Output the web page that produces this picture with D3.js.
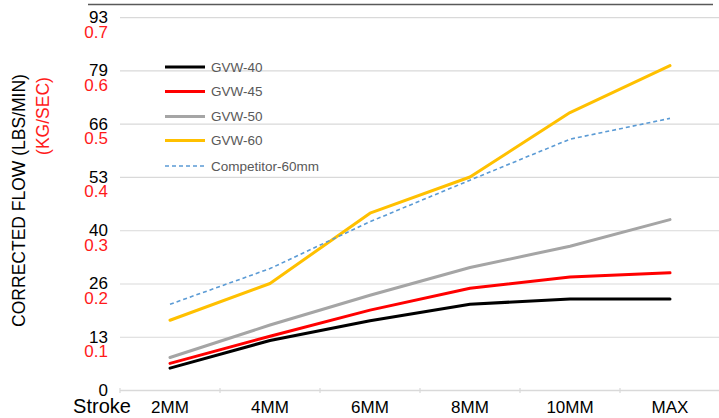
<!DOCTYPE html>
<html>
<head>
<meta charset="utf-8">
<script src="https://cdn.jsdelivr.net/npm/d3@7/dist/d3.min.js"></script>
<style>
  html, body { margin: 0; padding: 0; background: #fff; }
  svg { display: block; font-family: "Liberation Sans", Arial, sans-serif; }
</style>
</head>
<body>
<svg id="chart" width="719" height="418"></svg>
<script>
// ---- data ----
const categories = ["2MM", "4MM", "6MM", "8MM", "10MM", "MAX"];
const seriesNames = ["GVW-40", "GVW-45", "GVW-50", "GVW-60", "Competitor-60mm"];
// corrected flow in kg/sec
const gvw40 = [0.041, 0.093, 0.130, 0.161, 0.171, 0.171];
const gvw45 = [0.050, 0.101, 0.150, 0.191, 0.212, 0.220];
const gvw50 = [0.061, 0.122, 0.178, 0.230, 0.270, 0.320];
const gvw60 = [0.131, 0.200, 0.332, 0.400, 0.521, 0.609];
const competitor60 = [0.161, 0.228, 0.316, 0.394, 0.471, 0.510];
const kgTicks = [0, 0.1, 0.2, 0.3, 0.4, 0.5, 0.6, 0.7];
const lbsTickLabels = ["0", "13", "26", "40", "53", "66", "79", "93"];
const kgTickLabels = ["", "0.1", "0.2", "0.3", "0.4", "0.5", "0.6", "0.7"];

const seriesValues = [gvw40, gvw45, gvw50, gvw60, competitor60];
const colors = ["#000000", "#ff0000", "#a5a5a5", "#ffc000", "#5b9bd5"];
const widths = [3, 3, 3, 3, 1.6];
const dashes = [null, null, null, null, "4,3"];

const svg = d3.select("#chart");

const x = d3.scaleBand().domain(categories).range([120, 720]).paddingInner(0).paddingOuter(0);
const y = d3.scaleLinear().domain([0, 0.7]).range([390, 17.2]);

// top rule (cut-off header)
svg.append("line")
  .attr("x1", 88).attr("x2", 713).attr("y1", 4.5).attr("y2", 4.5)
  .attr("stroke", "#595959").attr("stroke-width", 1.5);

// gridlines
const yAxis = d3.axisLeft(y).tickValues(kgTicks).tickSize(-600).tickFormat(() => "");
const gy = svg.append("g").attr("transform", "translate(120,0)").call(yAxis);
gy.select(".domain").remove();
gy.selectAll(".tick line").attr("stroke", "#d9d9d9").attr("stroke-width", 1.2);

// y tick labels (two units)
const lab = svg.append("g");
kgTicks.forEach((v, i) => {
  lab.append("text")
    .attr("x", 108).attr("y", y(v)).attr("dy", "0.35em")
    .attr("text-anchor", "end").attr("font-size", 17).attr("fill", "#000")
    .text(lbsTickLabels[i]);
  if (kgTickLabels[i]) {
    lab.append("text")
      .attr("x", 108).attr("y", y(v) + 14.5).attr("dy", "0.35em")
      .attr("text-anchor", "end").attr("font-size", 17).attr("fill", "#ff1a1a")
      .text(kgTickLabels[i]);
  }
});

// x axis
const xAxis = d3.axisBottom(x).tickSize(0).tickPadding(11);
const gx = svg.append("g").attr("transform", `translate(0,${y(0)})`).call(xAxis);
gx.select(".domain").attr("stroke", "#d9d9d9").attr("stroke-width", 1.5);
gx.selectAll(".tick text").attr("font-size", 17).attr("fill", "#000")
  .attr("font-family", "Liberation Sans, Arial, sans-serif");
// band separators
const bounds = categories.map(c => x(c)).concat([x(categories[categories.length - 1]) + x.bandwidth()]);
svg.append("g").selectAll("line").data(bounds).join("line")
  .attr("x1", d => d).attr("x2", d => d)
  .attr("y1", y(0) - 2).attr("y2", y(0) + 3)
  .attr("stroke", "#d9d9d9").attr("stroke-width", 1.2);

svg.append("text").attr("x", 102).attr("y", 413)
  .attr("text-anchor", "middle").attr("font-size", 20).attr("fill", "#000")
  .text("Stroke");

// axis titles
svg.append("text")
  .attr("transform", "translate(25,200.5) rotate(-90)")
  .attr("text-anchor", "middle").attr("font-size", 17.5).attr("fill", "#000")
  .text("CORRECTED FLOW (LBS/MIN)");
svg.append("text")
  .attr("transform", "translate(48.5,116) rotate(-90)")
  .attr("text-anchor", "middle").attr("font-size", 17.5).attr("fill", "#ff1a1a")
  .text("(KG/SEC)");

// lines
const line = d3.line().x((d, i) => x(categories[i]) + x.bandwidth() / 2).y(d => y(d));
seriesValues.forEach((vals, s) => {
  svg.append("path")
    .datum(vals)
    .attr("d", line)
    .attr("fill", "none")
    .attr("stroke", colors[s])
    .attr("stroke-width", widths[s])
    .attr("stroke-linejoin", "round")
    .attr("stroke-linecap", s === 4 ? "butt" : "round")
    .attr("stroke-dasharray", dashes[s]);
});

// legend
const legendY = [67, 91.5, 116.5, 140.5, 166];
const lg = svg.append("g");
seriesNames.forEach((n, s) => {
  lg.append("line")
    .attr("x1", 165).attr("x2", 205).attr("y1", legendY[s]).attr("y2", legendY[s])
    .attr("stroke", colors[s]).attr("stroke-width", widths[s])
    .attr("stroke-dasharray", dashes[s]);
  lg.append("text")
    .attr("x", 211).attr("y", legendY[s]).attr("dy", "0.35em")
    .attr("font-size", 13.5).attr("fill", "#595959")
    .text(n);
});
</script>
</body>
</html>
